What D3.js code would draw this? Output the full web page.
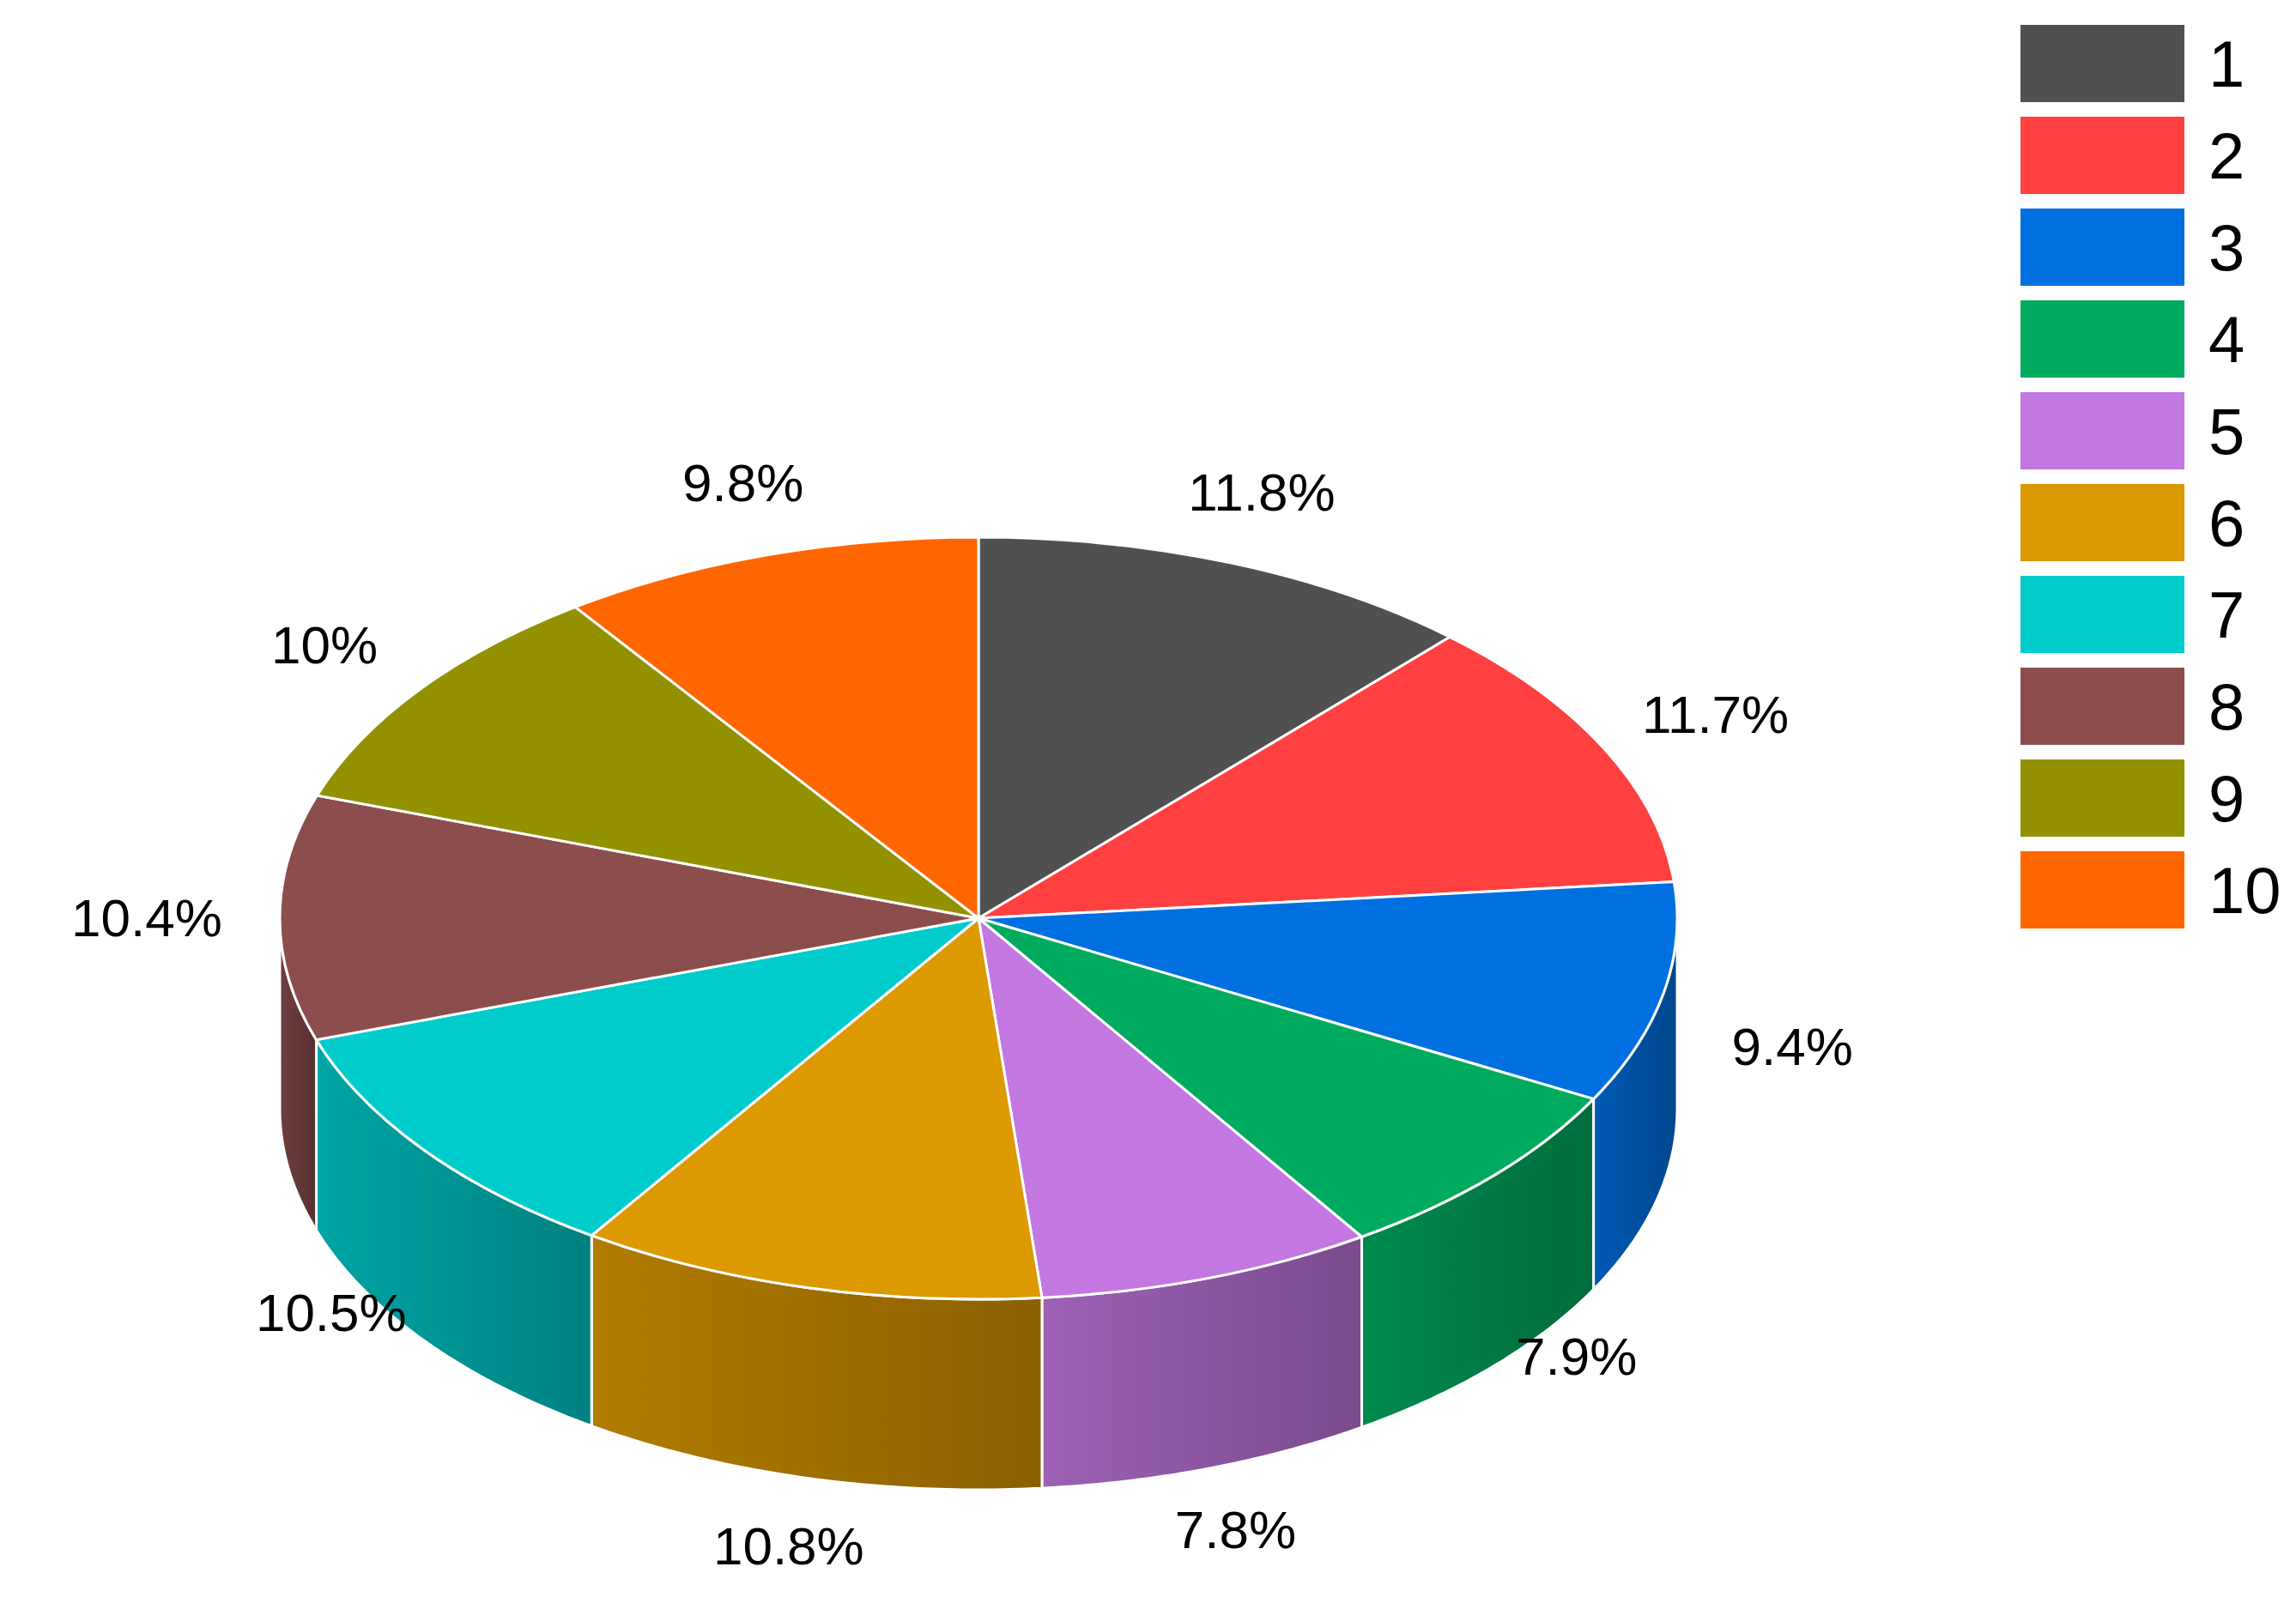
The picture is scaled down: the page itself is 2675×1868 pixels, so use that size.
<!DOCTYPE html>
<html>
<head>
<meta charset="utf-8">
<script src="https://cdn.jsdelivr.net/npm/d3@7"></script>
<style>
  body { margin: 0; background: #fff; }
  text { font-family: "Liberation Sans", Arial, sans-serif; }
</style>
</head>
<body>
<div id="chart"></div>
<script>
var categories = ['1', '2', '3', '4', '5', '6', '7', '8', '9', '10'];
var values = [11.8, 11.7, 9.4, 7.9, 7.8, 10.8, 10.5, 10.4, 10, 9.8];
var labels = ['11.8%', '11.7%', '9.4%', '7.9%', '7.8%', '10.8%', '10.5%', '10.4%', '10%', '9.8%'];
var colors = ['#505050', '#ff4040', '#0070e0', '#00ab60', '#c278e0', '#dc9900', '#00cccc', '#8c4d4d', '#949100', '#ff6600'];

var width = 2675, height = 1868;
var cx = 1140, cy = 1070, rx = 814, ry = 444, depth = 222;

var svg = d3.select('#chart').append('svg')
    .attr('width', width)
    .attr('height', height);

var defs = svg.append('defs');

var pie = d3.pie().sort(null).value(function (d) { return d; });
var arcs = pie(values);

function px(a) { return cx + rx * Math.sin(a); }
function py(a) { return cy - ry * Math.cos(a); }

// walls (front half only)
arcs.forEach(function (d, i) {
    var a0 = Math.max(d.startAngle, Math.PI / 2);
    var a1 = Math.min(d.endAngle, Math.PI * 1.5);
    if (a1 <= a0) return;
    var n = 60;
    var angs = d3.range(n + 1).map(function (k) { return a0 + (a1 - a0) * k / n; });
    var pts = angs.map(function (a) { return [px(a), py(a)]; });
    var bot = angs.slice().reverse().map(function (a) { return [px(a), py(a) + depth]; });
    var c = d3.color(colors[i]);
    var g = defs.append('linearGradient')
        .attr('id', 'g' + i)
        .attr('gradientUnits', 'userSpaceOnUse')
        .attr('x1', px(a0)).attr('x2', px(a1)).attr('y1', 0).attr('y2', 0);
    var leftToRight = px(a0) > px(a1);
    g.append('stop').attr('offset', 0).attr('stop-color', c.darker(leftToRight ? 1.3 : 0.6));
    g.append('stop').attr('offset', 1).attr('stop-color', c.darker(leftToRight ? 0.6 : 1.3));
    svg.append('path')
        .attr('d', 'M' + pts.concat(bot).join('L') + 'Z')
        .attr('fill', 'url(#g' + i + ')')
        .attr('stroke', '#fff')
        .attr('stroke-width', 3);
});

// top surface
var arc = d3.arc().innerRadius(0).outerRadius(ry);
svg.append('g')
    .attr('transform', 'translate(' + cx + ',' + cy + ') scale(' + (rx / ry) + ',1)')
    .selectAll('path')
    .data(arcs)
    .enter()
    .append('path')
    .attr('d', arc)
    .attr('fill', function (d, i) { return colors[i]; })
    .attr('stroke', '#fff')
    .attr('stroke-width', 3)
    .attr('vector-effect', 'non-scaling-stroke');

// labels
svg.selectAll('text.lbl')
    .data(arcs)
    .enter()
    .append('text')
    .attr('class', 'lbl')
    .attr('text-anchor', 'middle')
    .attr('dominant-baseline', 'central')
    .attr('font-size', 62)
    .attr('x', function (d) {
        var a = (d.startAngle + d.endAngle) / 2;
        return cx + Math.sin(a) * (rx * 1.08 + 90 * Math.abs(Math.sin(a)));
    })
    .attr('y', function (d) {
        var a = (d.startAngle + d.endAngle) / 2;
        var c = Math.cos(a);
        return cy - c * ry * 1.2 + depth * Math.max(0, -c);
    })
    .text(function (d, i) { return labels[i]; });

// legend
var ly = d3.scaleBand().domain(categories).range([29, 29 + 107 * categories.length]);
var leg = svg.selectAll('g.leg')
    .data(categories)
    .enter()
    .append('g')
    .attr('class', 'leg')
    .attr('transform', function (d) { return 'translate(2354,' + ly(d) + ')'; });
leg.append('rect')
    .attr('width', 191)
    .attr('height', 90)
    .attr('fill', function (d, i) { return colors[i]; });
leg.append('text')
    .attr('x', 219)
    .attr('y', 45)
    .attr('dominant-baseline', 'central')
    .attr('font-size', 76)
    .text(function (d) { return d; });
</script>
</body>
</html>
